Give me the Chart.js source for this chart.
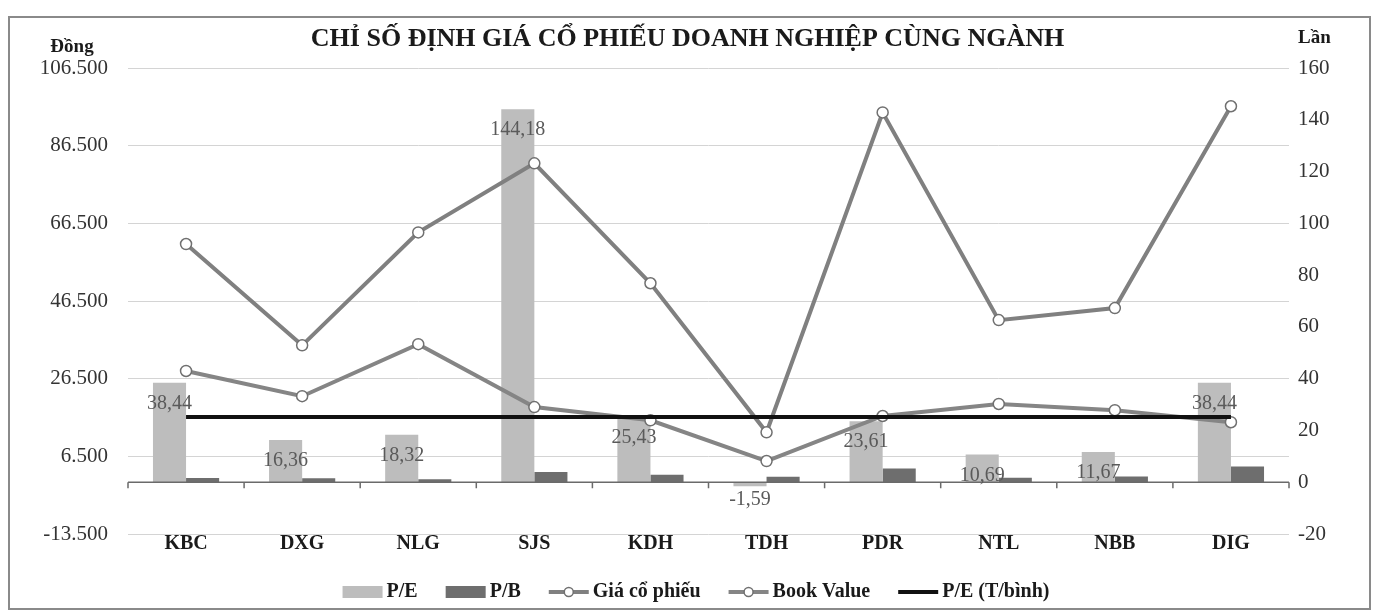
<!DOCTYPE html>
<html>
<head>
<meta charset="utf-8">
<script src="https://cdn.jsdelivr.net/npm/chart.js@4.4.1/dist/chart.umd.min.js"></script>
<style>
  html, body { margin: 0; padding: 0; background: #fff; }
  #wrap { width: 1375px; height: 614px; }
</style>
</head>
<body>
<div id="wrap"><canvas id="chart"></canvas></div>
<script>
const categories = ["KBC", "DXG", "NLG", "SJS", "KDH", "TDH", "PDR", "NTL", "NBB", "DIG"];
const peValues = [38.44, 16.36, 18.32, 144.18, 25.43, -1.59, 23.61, 10.69, 11.67, 38.44];
const pbValues = [1.6, 1.5, 1.2, 4.0, 2.9, 2.1, 5.3, 1.7, 2.2, 6.1];
const priceValues = [61200, 35100, 64200, 82000, 51100, 12700, 95100, 41600, 44700, 96700];
const bookValues = [28500, 22000, 35400, 19200, 15800, 5300, 16900, 20000, 18400, 15300];
const peAvgValues = [25.2, 25.2, 25.2, 25.2, 25.2, 25.2, 25.2, 25.2, 25.2, 25.2];
const leftTicks = [-13500, 6500, 26500, 46500, 66500, 86500, 106500];
const rightTicks = [-20, 0, 20, 40, 60, 80, 100, 120, 140, 160];

const SERIF = '"Liberation Serif", "Times New Roman", serif';

function fmtThousands(v) {
  const neg = v < 0;
  let s = String(Math.abs(Math.round(v)));
  s = s.replace(/\B(?=(\d{3})+(?!\d))/g, ".");
  return (neg ? "-" : "") + s;
}

// white background + thin frame
const framePlugin = {
  id: "frame",
  beforeDraw(chart) {
    const c = chart.ctx;
    c.save();
    c.fillStyle = "#fff";
    c.fillRect(0, 0, chart.width, chart.height);
    c.strokeStyle = "#8a8a8a";
    c.lineWidth = 2;
    c.strokeRect(9, 17, 1361, 592);
    c.restore();
  }
};

// horizontal axis drawn at value 0 of the right scale, with boundary ticks
const zeroAxisPlugin = {
  id: "zeroAxis",
  afterDatasetsDraw(chart) {
    const c = chart.ctx, x = chart.scales.x, y1 = chart.scales.y1;
    const y0 = y1.getPixelForValue(0);
    c.save();
    c.strokeStyle = "#6a6a6a";
    c.lineWidth = 1.5;
    c.beginPath();
    c.moveTo(chart.chartArea.left, y0);
    c.lineTo(chart.chartArea.right, y0);
    for (let i = 0; i <= categories.length; i++) {
      const px = x.getPixelForValue(i - 0.5);
      c.moveTo(px, y0);
      c.lineTo(px, y0 + 6);
    }
    c.stroke();
    c.restore();
  }
};

// P/E value labels on the bars
const barLabelPlugin = {
  id: "barLabels",
  afterDatasetsDraw(chart) {
    const c = chart.ctx;
    const meta = chart.getDatasetMeta(0);
    c.save();
    c.font = "20px " + SERIF;
    c.fillStyle = "#5a5a5a";
    c.textAlign = "center";
    c.textBaseline = "middle";
    meta.data.forEach((bar, i) => {
      const v = peValues[i];
      const ty = v >= 0 ? bar.y + 21 : bar.y + 13;
      c.fillText(v.toFixed(2).replace(".", ","), bar.x, ty);
    });
    c.restore();
  }
};

// unit titles above the two value axes
const unitPlugin = {
  id: "units",
  afterDraw(chart) {
    const c = chart.ctx;
    c.save();
    c.font = "bold 19px " + SERIF;
    c.fillStyle = "#1a1a1a";
    c.textBaseline = "middle";
    c.textAlign = "center";
    c.fillText("Đồng", 72, 47);
    c.textAlign = "left";
    c.fillText("Lần", 1298, 38);
    c.restore();
  }
};

// legend: boxes for bars, line (+ marker) for lines
const legendPlugin = {
  id: "customLegend",
  afterDraw(chart) {
    const c = chart.ctx;
    const ds = chart.data.datasets;
    c.save();
    c.font = "bold 20px " + SERIF;
    c.textBaseline = "middle";
    const symW = 40, gap = 4, itemGap = 28;
    const widths = ds.map(d => symW + gap + c.measureText(d.label).width);
    const total = widths.reduce((a, b) => a + b, 0) + itemGap * (ds.length - 1);
    let x = 696 - total / 2;
    const y = 592;
    ds.forEach((d, i) => {
      if (d.type === "line") {
        c.strokeStyle = d.borderColor;
        c.lineWidth = d.borderWidth;
        c.beginPath();
        c.moveTo(x, y);
        c.lineTo(x + symW, y);
        c.stroke();
        if (d.pointRadius > 0) {
          c.beginPath();
          c.arc(x + symW / 2, y, d.pointRadius - 1, 0, Math.PI * 2);
          c.fillStyle = d.pointBackgroundColor;
          c.fill();
          c.lineWidth = d.pointBorderWidth;
          c.strokeStyle = d.pointBorderColor;
          c.stroke();
        }
      } else {
        c.fillStyle = d.backgroundColor;
        c.fillRect(x, y - 6, symW, 12);
      }
      c.fillStyle = "#1a1a1a";
      c.fillText(d.label, x + symW + gap, y);
      x += widths[i] + itemGap;
    });
    c.restore();
  }
};

new Chart(document.getElementById("chart"), {
  type: "bar",
  data: {
    labels: categories,
    datasets: [
      { label: "P/E", data: peValues, yAxisID: "y1", backgroundColor: "#bdbdbd",
        categoryPercentage: 0.57, barPercentage: 1.0, order: 5 },
      { label: "P/B", data: pbValues, yAxisID: "y1", backgroundColor: "#6e6e6e",
        categoryPercentage: 0.57, barPercentage: 1.0, order: 6 },
      { type: "line", label: "Giá cổ phiếu", data: priceValues, yAxisID: "y",
        borderColor: "#808080", borderWidth: 4, tension: 0,
        pointRadius: 5.5, pointBackgroundColor: "#fff", pointBorderColor: "#707070",
        pointBorderWidth: 1.5, order: 3 },
      { type: "line", label: "Book Value", data: bookValues, yAxisID: "y",
        borderColor: "#858585", borderWidth: 4, tension: 0,
        pointRadius: 5.5, pointBackgroundColor: "#fff", pointBorderColor: "#707070",
        pointBorderWidth: 1.5, order: 2 },
      { type: "line", label: "P/E (T/bình)", data: peAvgValues, yAxisID: "y1",
        borderColor: "#111", borderWidth: 4, pointRadius: 0, tension: 0, order: 1 }
    ]
  },
  options: {
    responsive: true,
    maintainAspectRatio: false,
    animation: false,
    layout: { padding: 0 },
    plugins: {
      legend: { display: false },
      tooltip: { enabled: false },
      title: {
        display: true,
        text: "CHỈ SỐ ĐỊNH GIÁ CỔ PHIẾU DOANH NGHIỆP CÙNG NGÀNH",
        color: "#1a1a1a",
        font: { family: SERIF, size: 26, weight: "bold" },
        padding: { top: 24, bottom: 13 }
      }
    },
    scales: {
      x: {
        grid: { display: false, drawTicks: false },
        border: { display: false },
        ticks: { color: "#1a1a1a", font: { family: SERIF, size: 20, weight: "bold" }, padding: -2 },
        afterFit: s => { s.height = 80; }
      },
      y: {
        position: "left",
        min: -13500, max: 106500,
        afterBuildTicks: s => { s.ticks = leftTicks.map(v => ({ value: v })); },
        grid: { color: "#d4d4d4", lineWidth: 1, drawTicks: false },
        border: { display: false },
        ticks: { color: "#333", font: { family: SERIF, size: 21 }, padding: 20,
                 callback: v => fmtThousands(v) },
        afterFit: s => { s.width = 128; }
      },
      y1: {
        position: "right",
        min: -20, max: 160,
        afterBuildTicks: s => { s.ticks = rightTicks.map(v => ({ value: v })); },
        grid: { display: false, drawTicks: false },
        border: { display: false },
        ticks: { color: "#333", font: { family: SERIF, size: 21 }, padding: 9 },
        afterFit: s => { s.width = 86; }
      }
    }
  },
  plugins: [framePlugin, zeroAxisPlugin, barLabelPlugin, unitPlugin, legendPlugin]
});
</script>
</body>
</html>
